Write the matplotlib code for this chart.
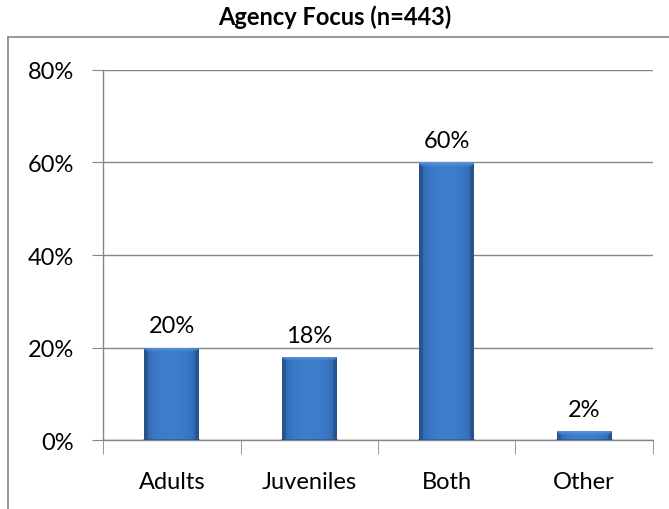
import numpy as np
import matplotlib.pyplot as plt
from matplotlib.lines import Line2D
from matplotlib.ticker import FuncFormatter, FixedLocator

categories = ["Adults", "Juveniles", "Both", "Other"]
values = [20, 18, 60, 2]
labels = ["20%", "18%", "60%", "2%"]
yticks = [0, 20, 40, 60, 80]

plt.rcParams["font.family"] = ["Lato", "DejaVu Sans"]

fig = plt.figure(figsize=(6.69, 5.10), dpi=100)
ax = fig.add_axes([0.154, 0.135, 0.822, 0.726])

x = np.arange(len(categories))
bars = ax.bar(x, values, width=0.4, color="#3B77C0", edgecolor="none", zorder=3)

ax.set_xlim(-0.5, len(categories) - 0.5)
ax.set_ylim(0, 80)
ax.yaxis.set_major_locator(FixedLocator(yticks))
ax.yaxis.set_major_formatter(FuncFormatter(lambda v, p: f"{v:.0f}%"))
ax.set_xticks(x)
ax.set_xticklabels(categories)
ax.xaxis.set_minor_locator(FixedLocator(np.arange(-0.5, len(categories), 1.0)))

grey = "#868686"
ax.grid(axis="y", color=grey, linewidth=1.0, zorder=0)
for s in ["top", "right"]:
    ax.spines[s].set_visible(False)
for s in ["left", "bottom"]:
    ax.spines[s].set_color(grey)
    ax.spines[s].set_linewidth(1.0)
ax.tick_params(axis="y", length=8, color=grey, labelsize=17, pad=13)
ax.tick_params(axis="x", which="major", length=0, labelsize=17, pad=22)
ax.tick_params(axis="x", which="minor", length=10, color=grey)

# bevelled gradient on each bar
fig.canvas.draw()
for b in bars:
    x0, y0 = b.get_x(), b.get_y()
    w, h = b.get_width(), b.get_height()
    p0 = ax.transData.transform((x0, y0))
    p1 = ax.transData.transform((x0 + w, y0 + h))
    nx = max(int(round(p1[0] - p0[0])), 2)
    ny = max(int(round(p1[1] - p0[1])), 2)
    xx = np.arange(nx) + 0.5
    yy = np.arange(ny)[::-1] + 0.5  # distance from bottom
    X, Y = np.meshgrid(xx, yy)
    dx = np.minimum(X, nx - X)
    dtop = ny - Y
    t = np.clip(np.abs(X - nx / 2) / (nx / 2), 0, 1)
    base = np.array([0.24, 0.49, 0.80])
    dark = np.array([0.17, 0.37, 0.64])
    img = base[None, None, :] * (1 - t[..., None] ** 3) + dark[None, None, :] * (t[..., None] ** 3)
    side = (dx < 4) & (dtop > dx)
    img[side] = img[side] * 0.85
    top = (dtop < 5) & (dtop <= dx + 1)
    shade = np.clip(1 - dtop / 5, 0, 1)[..., None]
    light = np.array([0.36, 0.60, 0.88])
    img = np.where(top[..., None], img * (1 - shade) + light * shade, img)
    im = ax.imshow(img, extent=(x0, x0 + w, y0, y0 + h), aspect="auto",
                   zorder=4, interpolation="bilinear")
    im.set_clip_path(b)
    ax.plot([x0, x0 + w], [0, 0], color="#2A4F80", linewidth=1.2, zorder=5, alpha=0.6)

for xi, v, lab in zip(x, values, labels):
    ax.annotate(lab, (xi, v), xytext=(0, 8), textcoords="offset points",
                ha="center", va="bottom", fontsize=17, color="black")

fig.suptitle("Agency Focus (n=443)", fontsize=17, fontweight="bold", y=0.99)

# outer chart frame (cut at the image edge)
fig.add_artist(Line2D([0.012, 0.012], [0.0, 0.925], color=grey, linewidth=1.2, transform=fig.transFigure))
fig.add_artist(Line2D([0.012, 1.0], [0.925, 0.925], color=grey, linewidth=1.2, transform=fig.transFigure))

fig.savefig("out.png", dpi=100)
